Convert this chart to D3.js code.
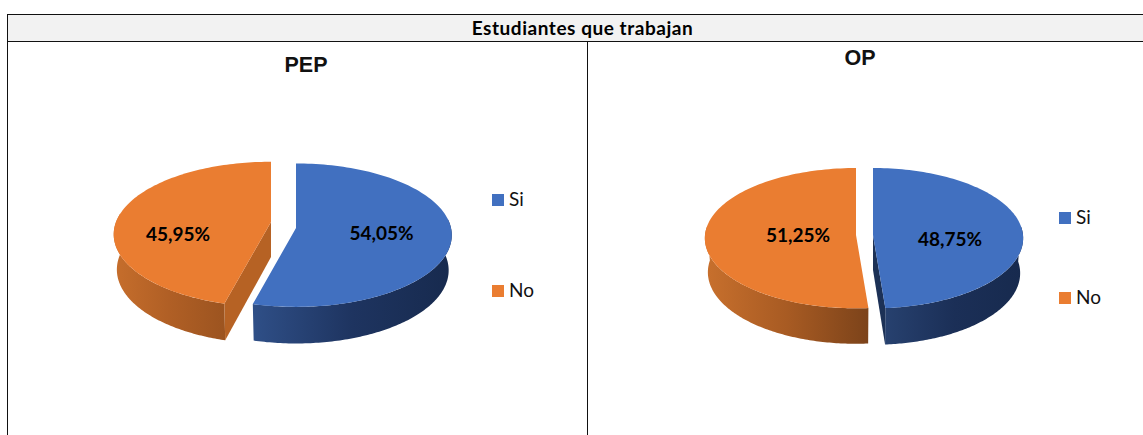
<!DOCTYPE html>
<html><head><meta charset="utf-8">
<script src="https://cdn.jsdelivr.net/npm/d3@7"></script>
<style>html,body{margin:0;padding:0;background:#fff}svg{display:block}</style>
</head><body><div id="c"></div>
<script>
const tableTitle = "Estudiantes que trabajan";
const categories = ["Si", "No"];
const panelTitles = ["PEP", "OP"];
const pepValues = [54.05, 45.95];
const opValues = [48.75, 51.25];
const colors = ["#4170c0", "#ea7d31"];
const W = 1143, H = 435;
const svg = d3.select("#c").append("svg").attr("width", W).attr("height", H);
const defs = svg.append("defs");

const panels = [
  { title: panelTitles[0], values: pepValues, titleX: 306, titleY: 72,
    slices: [
      { cx: 296, cy: 228, rx: 155, ry: 71, k: .1, depth: 35, label: [381.5, 240], wall: ["#2f4f87", "#1e3460", "#172a4e"], face: "#1d3359" },
      { cx: 271, cy: 222, rx: 155, ry: 70.5, k: .17, depth: 35, label: [178, 241], wall: ["#c66e2c", "#b05f25", "#9c5420"], face: "#b66224" }],
    legendX: 492, legendY: [200, 291] },
  { title: panelTitles[1], values: opValues, titleX: 860, titleY: 65,
    slices: [
      { cx: 873, cy: 235, rx: 150, ry: 70, k: .045, depth: 35, label: [950, 246], wall: ["#27416f", "#1b2f57", "#172a4e"], face: "#1c3156" },
      { cx: 856, cy: 235, rx: 151, ry: 70, k: .045, depth: 34, label: [798, 242], wall: ["#c8702d", "#a85b23", "#7c431a"], face: "#b66224" }],
    legendX: 1059, legendY: [218, 298] }
];

// table frame
svg.append("rect").attr("x", 7.5).attr("y", 14.5).attr("width", W).attr("height", 27)
  .attr("fill", "#f2f2f2").attr("stroke", "#111");
svg.append("line").attr("x1", 7.5).attr("x2", 7.5).attr("y1", 14).attr("y2", H).attr("stroke", "#111");
svg.append("line").attr("x1", 587.5).attr("x2", 587.5).attr("y1", 41).attr("y2", H).attr("stroke", "#111");
svg.append("text").attr("x", 582.5).attr("y", 35).attr("text-anchor", "middle")
  .attr("font-family", "Lato").attr("font-weight", 700).attr("font-size", 19).attr("letter-spacing", .55).attr("fill", "#000").text(tableTitle);

const pie = d3.pie().sort(null).startAngle(0).endAngle(2 * Math.PI);

panels.forEach((p, pi) => {
  const g = svg.append("g");
  const arcs = pie(p.values);
  arcs.forEach((a, i) => {
    const s = p.slices[i];
    const proj = t => {
      const u = Math.sin(t), v = -Math.cos(t), q = 1 / (1 - s.k * v);
      return [s.cx + s.rx * u * q, s.cy + s.ry * v * q];
    };
    const low = ([x, y]) => [s.cx + (x - s.cx) * .98, y + s.depth + (y - s.cy) * .02];
    const samples = (t0, t1) => d3.range(0, 121).map(j => t0 + (t1 - t0) * j / 120);
    const line = d3.line();
    // outer wall
    const w0 = Math.max(a.startAngle, Math.PI / 2 - .12), w1 = Math.min(a.endAngle, 3 * Math.PI / 2 + .12);
    if (w1 > w0) {
      const rim = samples(w0, w1).map(proj);
      const bottom = rim.map(low).reverse();
      const xs = rim.concat(bottom).map(d => d[0]);
      const id = `w${pi}${i}`;
      const gr = defs.append("linearGradient").attr("id", id).attr("gradientUnits", "userSpaceOnUse")
        .attr("x1", d3.min(xs)).attr("x2", d3.max(xs)).attr("y1", 0).attr("y2", 0);
      s.wall.forEach((c, j) => gr.append("stop").attr("offset", j / 2).attr("stop-color", c));
      g.append("path").attr("d", line(rim.concat(bottom)) + "Z").attr("fill", `url(#${id})`);
    }
    // cut faces turned to the viewer
    const faces = [];
    if (-Math.sin(a.startAngle) > .01) faces.push(a.startAngle);
    if (Math.sin(a.endAngle) > .01) faces.push(a.endAngle);
    faces.forEach(t => {
      const r = proj(t), c = [s.cx, s.cy];
      g.append("path").attr("d", line([c, r, low(r), low(c)]) + "Z").attr("fill", s.face);
    });
    // top face
    g.append("path")
      .attr("d", line([[s.cx, s.cy]].concat(samples(a.startAngle, a.endAngle).map(proj))) + "Z")
      .attr("fill", colors[i]);
    g.append("text").attr("x", s.label[0]).attr("y", s.label[1]).attr("text-anchor", "middle")
      .attr("font-family", "Lato").attr("font-weight", 700).attr("font-size", 19).attr("fill", "#000")
      .text(a.value.toFixed(2).replace(".", ",") + "%");
    // legend
    const ly = p.legendY[i];
    g.append("rect").attr("x", p.legendX).attr("y", ly - 6).attr("width", 12).attr("height", 12).attr("fill", colors[i]);
    g.append("text").attr("x", p.legendX + 17).attr("y", ly + 6).attr("font-family", "Lato")
      .attr("font-size", 19).attr("fill", "#111").text(categories[i]);
  });
  g.append("text").attr("x", p.titleX).attr("y", p.titleY).attr("text-anchor", "middle")
    .attr("font-family", "Liberation Sans").attr("font-weight", 700).attr("font-size", 21.5).attr("fill", "#111").text(p.title);
});
</script></body></html>
